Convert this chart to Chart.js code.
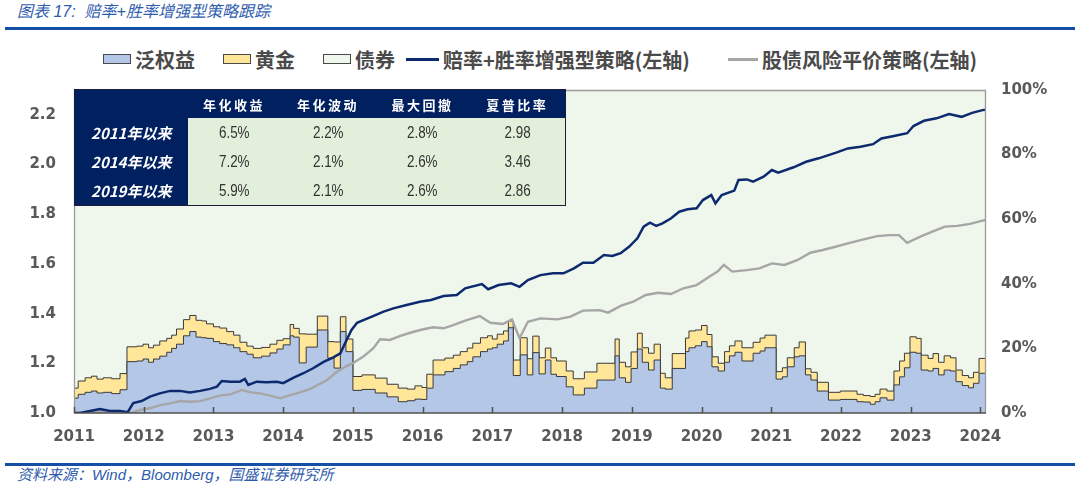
<!DOCTYPE html>
<html>
<head>
<meta charset="utf-8">
<script src="https://cdn.jsdelivr.net/npm/chart.js@4.4.1/dist/chart.umd.min.js"></script>
<style>
  body { margin:0; width:1080px; height:488px; background:#fff; position:relative; overflow:hidden;
         font-family:"Noto Sans CJK SC", sans-serif; }
  #title { position:absolute; left:17px; top:1px; font-size:16px; line-height:22px; font-style:italic; color:#2f5cad;
           font-family:"Liberation Sans","Noto Sans CJK SC",sans-serif; }
  .rule { position:absolute; left:5px; width:1070px; height:3px; background:#1650a5; }
  .lg { position:absolute; top:47px; height:24px; display:flex; align-items:center; white-space:nowrap;
        font-size:20px; font-weight:bold; color:#4a4a4a; }
  .box { width:26px; height:8px; border:1px solid #4a4a4a; margin-right:4px; }
  .ln { width:33px; height:3px; margin-right:4px; }
  #wrap { position:absolute; left:0; top:80px; width:1080px; }
  #stats { position:absolute; left:74px; top:89px; border-collapse:collapse; table-layout:fixed; width:491px;
           border:1px solid #1b1b3b; }
  #stats th, #stats td { padding:0; text-align:center; }
  #stats thead th { background:#002060; color:#fff; height:28px; font-size:13px; font-weight:bold; letter-spacing:2.5px; }
  #stats tbody th { background:#002060; color:#fff; height:29px; font-size:15px; font-weight:bold; font-style:italic; }
  #stats tbody td { background:#e2efda; color:#333; font-size:16px;
                    font-family:"Liberation Sans Narrow","Liberation Sans",sans-serif; }
  #stats tbody td span { display:inline-block; transform:scaleX(0.84); }
  #src { position:absolute; left:17px; top:465px; font-size:15px; line-height:20px; font-style:italic; color:#2f5cad;
         font-family:"Liberation Sans","Noto Sans CJK SC",sans-serif; }
</style>
</head>
<body>
<div id="title">图表 17:&nbsp; 赔率+胜率增强型策略跟踪</div>
<div class="rule" style="top:27px"></div>

<div class="lg" style="left:103px"><span class="box" style="background:#b4c7e7"></span>泛权益</div>
<div class="lg" style="left:223px"><span class="box" style="background:#ffe699"></span>黄金</div>
<div class="lg" style="left:323px"><span class="box" style="background:#eff6ec"></span>债券</div>
<div class="lg" style="left:406px"><span class="ln" style="background:#0d2a6e"></span>赔率+胜率增强型策略(左轴)</div>
<div class="lg" style="left:728px"><span class="ln" style="background:#a6a6a6;width:30px"></span>股债风险平价策略(左轴)</div>

<div id="wrap"><canvas id="c" width="1080" height="380"></canvas></div>
<table id="stats"></table>

<div class="rule" style="top:463px"></div>
<div id="src">资料来源：Wind，Bloomberg，国盛证券研究所</div>

<script>
//===========================================================================================
// ~~ DATA ~~

// weights (right axis, %), step changes at these dates
var stepYears = [2011.00,2011.06,2011.16,2011.25,2011.33,2011.42,2011.54,2011.66,2011.76,2011.90,
  2011.99,2012.07,2012.14,2012.23,2012.33,2012.40,2012.47,2012.57,2012.66,2012.75,
  2012.83,2012.90,2013.00,2013.09,2013.19,2013.29,2013.38,2013.48,2013.57,2013.69,
  2013.81,2013.91,2014.00,2014.10,2014.15,2014.23,2014.33,2014.49,2014.64,2014.73,
  2014.82,2014.90,2015.00,2015.13,2015.32,2015.49,2015.65,2015.78,2015.89,2015.99,
  2016.06,2016.15,2016.32,2016.44,2016.54,2016.64,2016.72,2016.83,2016.93,2017.00,
  2017.07,2017.16,2017.23,2017.30,2017.40,2017.50,2017.58,2017.67,2017.76,2017.84,
  2017.92,2018.06,2018.16,2018.32,2018.50,2018.76,2018.82,2018.91,2018.99,2019.08,
  2019.15,2019.24,2019.32,2019.41,2019.48,2019.58,2019.77,2019.82,2019.91,2020.00,
  2020.08,2020.15,2020.24,2020.33,2020.40,2020.48,2020.58,2020.74,2020.84,2020.91,
  2021.07,2021.16,2021.23,2021.33,2021.40,2021.49,2021.57,2021.66,2021.82,2021.99,
  2022.23,2022.32,2022.42,2022.49,2022.56,2022.66,2022.76,2022.84,2022.91,2022.99,
  2023.08,2023.15,2023.25,2023.32,2023.40,2023.48,2023.57,2023.65,2023.74,2023.83,
  2023.90,2023.98];
var endYear = 2024.08;

var equityW = [4.6,5.8,6.4,6.8,6.2,6.4,6.0,7.2,15.9,16.1,
  16.7,15.7,16.7,17.6,18.8,20.0,21.3,23.9,25.2,23.5,
  23.3,23.1,22.1,21.5,21.1,20.2,19.0,18.2,17.1,17.6,
  18.6,19.8,21.1,23.9,23.5,15.5,20.4,25.7,17.0,13.9,
  25.2,19.0,7.0,7.3,6.2,5.0,3.5,3.8,4.3,4.2,
  7.7,11.8,12.8,13.8,14.9,15.9,17.4,19.0,19.8,20.2,
  21.3,22.3,26.4,11.6,18.0,11.8,18.7,12.1,16.4,12.0,
  11.3,8.1,5.6,7.7,10.2,17.7,10.9,9.5,13.8,19.8,
  15.7,13.3,16.4,7.7,7.4,13.8,19.0,20.2,20.8,22.1,
  20.5,14.3,13.0,15.7,17.7,18.8,16.1,18.5,19.2,20.2,
  10.5,11.2,14.3,17.4,17.7,11.8,10.2,6.8,4.0,4.2,
  3.5,3.4,2.7,3.5,4.7,4.0,8.7,11.2,14.0,18.8,
  18.5,13.3,13.0,13.8,11.8,13.3,13.0,9.7,8.5,7.8,
  9.2,12.3];

var goldW = [3.1,4.1,4.5,4.6,4.3,4.5,4.6,5.0,4.6,4.6,
  4.6,4.5,4.3,4.7,4.3,4.1,4.7,5.0,5.0,5.2,
  5.2,4.5,4.6,4.8,4.1,3.9,2.9,2.5,2.9,2.7,
  2.7,2.7,1.9,3.5,2.7,9.0,4.0,4.3,5.1,8.1,
  4.6,3.9,4.3,4.5,4.6,3.9,4.2,3.6,4.1,3.7,
  4.3,4.6,4.2,4.1,4.1,4.2,4.2,4.3,4.1,2.7,
  3.1,3.1,2.1,4.8,5.3,5.0,5.1,5.0,3.7,5.1,
  4.8,4.9,5.0,5.0,5.2,5.2,4.8,4.8,5.1,4.9,
  4.5,5.2,4.9,4.6,3.5,4.6,4.2,5.2,4.9,5.0,
  3.8,3.1,2.4,3.3,3.1,3.5,4.1,3.4,4.0,3.9,
  2.3,2.8,2.8,2.8,4.3,1.9,2.4,2.7,2.4,2.6,
  2.3,2.0,2.4,2.3,2.7,2.8,4.3,4.9,4.5,4.8,
  4.6,4.6,3.9,4.6,3.9,4.4,4.1,3.6,3.1,3.1,
  3.4,4.6];

// 赔率+胜率增强型策略 net value (left axis)
var navyYears = [2011.00,2011.09,2011.23,2011.37,2011.52,2011.66,2011.77,2011.85,2011.97,2012.09,
  2012.23,2012.38,2012.52,2012.66,2012.81,2012.95,2013.05,2013.12,2013.24,2013.38,
  2013.45,2013.50,2013.62,2013.76,2013.91,2014.00,2014.15,2014.29,2014.43,2014.58,
  2014.72,2014.82,2014.91,2014.98,2015.06,2015.15,2015.29,2015.44,2015.58,2015.77,
  2015.96,2016.12,2016.30,2016.49,2016.61,2016.85,2016.94,2017.09,2017.27,2017.39,
  2017.51,2017.69,2017.87,2018.02,2018.17,2018.30,2018.45,2018.60,2018.72,2018.84,
  2018.96,2019.08,2019.17,2019.26,2019.35,2019.44,2019.56,2019.68,2019.80,2019.93,
  2020.02,2020.14,2020.20,2020.29,2020.47,2020.53,2020.65,2020.74,2020.89,2021.01,
  2021.10,2021.32,2021.50,2021.68,2021.92,2022.10,2022.28,2022.46,2022.58,2022.76,
  2022.95,2023.04,2023.19,2023.37,2023.55,2023.73,2023.88,2024.03,2024.08];
var navyVals = [1.000,1.000,1.008,1.016,1.008,1.008,1.003,1.040,1.048,1.066,
  1.079,1.089,1.089,1.083,1.089,1.097,1.106,1.129,1.126,1.126,
  1.137,1.113,1.126,1.124,1.126,1.120,1.142,1.160,1.180,1.206,
  1.224,1.240,1.294,1.334,1.363,1.374,1.390,1.408,1.421,1.435,
  1.448,1.455,1.471,1.475,1.502,1.519,1.498,1.515,1.522,1.508,
  1.535,1.555,1.562,1.562,1.582,1.605,1.605,1.636,1.632,1.643,
  1.669,1.703,1.750,1.766,1.753,1.763,1.783,1.810,1.820,1.824,
  1.857,1.877,1.844,1.877,1.895,1.938,1.940,1.931,1.951,1.978,
  1.967,1.989,2.011,2.025,2.047,2.065,2.072,2.082,2.105,2.115,
  2.126,2.155,2.176,2.186,2.203,2.192,2.208,2.219,2.221];

// 股债风险平价策略 net value (left axis)
var grayYears = [2011.00,2011.23,2011.52,2011.66,2011.80,2011.95,2012.09,2012.23,2012.38,2012.52,
  2012.66,2012.81,2012.95,2013.09,2013.24,2013.41,2013.53,2013.67,2013.81,2013.96,
  2014.10,2014.24,2014.39,2014.63,2014.77,2014.91,2015.01,2015.15,2015.29,2015.39,
  2015.53,2015.68,2015.87,2016.01,2016.15,2016.30,2016.44,2016.61,2016.82,2016.97,
  2017.15,2017.28,2017.39,2017.51,2017.69,2017.93,2018.12,2018.30,2018.54,2018.66,
  2018.84,2019.02,2019.20,2019.38,2019.56,2019.74,2019.93,2020.11,2020.23,2020.32,
  2020.44,2020.65,2020.83,2021.01,2021.19,2021.38,2021.56,2021.74,2021.92,2022.10,
  2022.28,2022.52,2022.70,2022.83,2022.95,2023.13,2023.31,2023.49,2023.67,2023.85,
  2024.03,2024.08];
var grayVals = [1.000,1.003,1.008,1.008,0.999,1.012,1.019,1.032,1.039,1.048,
  1.045,1.048,1.059,1.070,1.075,1.093,1.083,1.079,1.070,1.059,
  1.072,1.083,1.097,1.133,1.166,1.189,1.202,1.227,1.260,1.297,
  1.294,1.310,1.327,1.337,1.345,1.341,1.354,1.372,1.390,1.363,
  1.358,1.377,1.301,1.367,1.381,1.377,1.388,1.412,1.414,1.404,
  1.431,1.448,1.475,1.484,1.479,1.502,1.515,1.548,1.569,1.596,
  1.569,1.575,1.582,1.602,1.596,1.616,1.645,1.656,1.669,1.683,
  1.696,1.712,1.716,1.716,1.685,1.709,1.730,1.750,1.753,1.761,
  1.774,1.777];

// summary table
var tableCols = ["年化收益", "年化波动", "最大回撤", "夏普比率"];
var tableRows = ["2011年以来", "2014年以来", "2019年以来"];
var tableVals = [["6.5%", "2.2%", "2.8%", "2.98"],
                 ["7.2%", "2.1%", "2.6%", "3.46"],
                 ["5.9%", "2.1%", "2.6%", "2.86"]];

//===========================================================================================
// ~~ TABLE ~~

function createTable(where) {
  var colgroup = document.createElement("COLGROUP");
  [113, 93, 95, 94, 96].forEach(function (w) {
    var col = document.createElement("COL");
    col.style.width = w + "px";
    colgroup.appendChild(col);
  });
  where.appendChild(colgroup);

  var thead = document.createElement("THEAD");
  var trh = document.createElement("TR");
  trh.appendChild(document.createElement("TH"));
  for (var i = 0; i < tableCols.length; i++) {
    var th = document.createElement("TH");
    th.appendChild(document.createTextNode(tableCols[i]));
    trh.appendChild(th);
  }
  thead.appendChild(trh);
  where.appendChild(thead);

  var tbody = document.createElement("TBODY");
  for (var j = 0; j < tableRows.length; j++) {
    var tr = document.createElement("TR");
    var rh = document.createElement("TH");
    rh.appendChild(document.createTextNode(tableRows[j]));
    tr.appendChild(rh);
    for (var k = 0; k < tableVals[j].length; k++) {
      var td = document.createElement("TD");
      var sp = document.createElement("SPAN");
      sp.innerText = tableVals[j][k];
      td.appendChild(sp);
      tr.appendChild(td);
    }
    tbody.appendChild(tr);
  }
  where.appendChild(tbody);
}

createTable(document.getElementById("stats"));

//===========================================================================================
// ~~ CHART ~~

function stepPts(vals) {
  var pts = stepYears.map(function (yr, i) { return { x: yr, y: vals[i] }; });
  pts.push({ x: endYear, y: vals[vals.length - 1] });
  return pts;
}

function linePts(xs, ys) {
  return xs.map(function (yr, i) { return { x: yr, y: ys[i] }; });
}

var bondW = equityW.map(function (e, i) { return +(100 - e - goldW[i]).toFixed(1); });

// plot frame + inward year ticks
var framePlugin = {
  id: "frame",
  afterDatasetsDraw: function (chart) {
    var a = chart.chartArea, ctx = chart.ctx, xs = chart.scales.x;
    ctx.save();
    ctx.strokeStyle = "#9a9a9a";
    ctx.lineWidth = 1.3;
    ctx.beginPath();
    ctx.moveTo(a.left + 0.5, a.bottom);
    ctx.lineTo(a.left + 0.5, a.top + 0.5);
    ctx.lineTo(a.right - 0.5, a.top + 0.5);
    ctx.lineTo(a.right - 0.5, a.bottom);
    ctx.stroke();
    ctx.strokeStyle = "#505050";
    ctx.lineWidth = 1.5;
    ctx.beginPath();
    ctx.moveTo(a.left, a.bottom);
    ctx.lineTo(a.right, a.bottom);
    xs.ticks.forEach(function (t) {
      var px = Math.round(xs.getPixelForValue(t.value)) + 0.5;
      ctx.moveTo(px, a.bottom);
      ctx.lineTo(px, a.bottom - 6);
    });
    ctx.stroke();
    ctx.restore();
  }
};

var tickFont = { family: "'DejaVu Sans', Verdana, sans-serif", size: 15, weight: "bold" };
var areaLine = "#3a3a3a";
var PLOT_TOP = 90, PLOT_BOTTOM = 413;

function makeConfig() {
  return {
    type: "line",
    data: {
      datasets: [
        { label: "赔率+胜率增强型策略(左轴)", data: linePts(navyYears, navyVals), yAxisID: "y",
          borderColor: "#0d2a6e", borderWidth: 2.5, pointRadius: 0, tension: 0, fill: false },
        { label: "股债风险平价策略(左轴)", data: linePts(grayYears, grayVals), yAxisID: "y",
          borderColor: "#a6a6a6", borderWidth: 2.4, pointRadius: 0, tension: 0, fill: false },
        { label: "泛权益", data: stepPts(equityW), yAxisID: "y1", stepped: "before", fill: "origin",
          backgroundColor: "#b4c7e7", borderColor: areaLine, borderWidth: 1, pointRadius: 0 },
        { label: "黄金", data: stepPts(goldW), yAxisID: "y1", stepped: "before", fill: "-1",
          backgroundColor: "#ffe699", borderColor: areaLine, borderWidth: 1, pointRadius: 0 },
        { label: "债券", data: stepPts(bondW), yAxisID: "y1", stepped: "before", fill: "-1",
          backgroundColor: "#eff6ec", borderColor: "rgba(0,0,0,0)", borderWidth: 0, pointRadius: 0 }
      ]
    },
    options: {
      responsive: false,
      animation: false,
      layout: { padding: 0 },
      plugins: { legend: { display: false }, tooltip: { enabled: false } },
      scales: {
        x: {
          type: "linear", min: 2011, max: endYear,
          grid: { display: false, drawTicks: false }, border: { display: false },
          ticks: { stepSize: 1, autoSkip: false, includeBounds: false, maxRotation: 0, padding: 15,
                   color: "#595959", font: tickFont,
                   callback: function (v) { return String(v); } },
          afterFit: function (s) { s.height = 44; }
        },
        y: {
          position: "left", min: 1, max: 2.3,
          grid: { display: false, drawTicks: false }, border: { display: false },
          ticks: { stepSize: 0.2, includeBounds: false, padding: 18, color: "#595959", font: tickFont,
                   callback: function (v) { return v.toFixed(1); } },
          afterFit: function (s) { s.width = 74; }
        },
        y1: {
          position: "right", stacked: true, min: 0, max: 100,
          grid: { display: false, drawTicks: false }, border: { display: false },
          ticks: { stepSize: 20, padding: 15, color: "#595959", font: tickFont,
                   callback: function (v) { return v + "%"; } },
          afterFit: function (s) { s.width = 94; }
        }
      }
    },
    plugins: [framePlugin]
  };
}

// build once to measure the plot box, then rebuild on a canvas tall enough for the reference frame
var canvas = document.getElementById("c");
var chart = new Chart(canvas, makeConfig());
var got = chart.chartArea.bottom - chart.chartArea.top;
var want = PLOT_BOTTOM - PLOT_TOP;
chart.destroy();
canvas.width = 1080;
canvas.height = Math.round(380 + (want - got));
chart = new Chart(canvas, makeConfig());
document.getElementById("wrap").style.top = (PLOT_TOP - chart.chartArea.top) + "px";
</script>
</body>
</html>
